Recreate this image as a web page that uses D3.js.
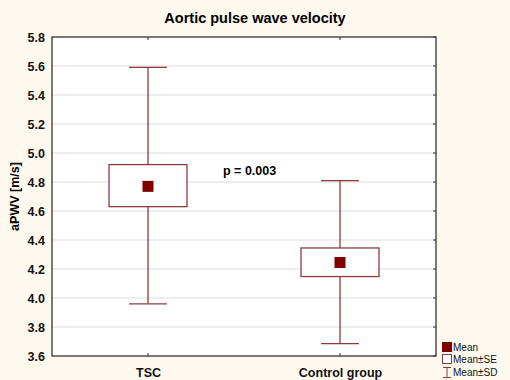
<!DOCTYPE html>
<html>
<head>
<meta charset="utf-8">
<script src="https://cdn.jsdelivr.net/npm/d3@7"></script>
<style>
  body { margin: 0; background: #fef9ee; }
  svg { display: block; font-family: Arial, "Liberation Sans", sans-serif; }
</style>
</head>
<body>
<div id="chart"></div>
<script>
const groups = ["TSC", "Control group"];
const means = [4.77, 4.245];
const seLow = [4.63, 4.148];
const seHigh = [4.92, 4.345];
const sdLow = [3.96, 3.686];
const sdHigh = [5.59, 4.81];
const yTicks = [3.6, 3.8, 4.0, 4.2, 4.4, 4.6, 4.8, 5.0, 5.2, 5.4, 5.6, 5.8];
const legendLabels = ["Mean", "Mean±SE", "Mean±SD"];

window.onload = function () {
    const width = 510, height = 380;
    const margin = { top: 37, right: 74, bottom: 24, left: 52 };
    const w = width - margin.left - margin.right;
    const h = height - margin.top - margin.bottom;
    const dark = "#800000", boxCol = "#8b3c3c";

    const svg = d3.select("#chart").append("svg")
        .attr("width", width).attr("height", height);

    svg.append("rect").attr("width", width).attr("height", height).attr("fill", "#fef9ee");

    svg.append("text")
        .attr("x", 255).attr("y", 23)
        .attr("text-anchor", "middle")
        .attr("font-size", 14.5).attr("font-weight", "bold")
        .text("Aortic pulse wave velocity");

    const g = svg.append("g").attr("transform", "translate(" + margin.left + "," + margin.top + ")");

    const x = d3.scalePoint().domain(groups).range([0, w]).padding(0.5);
    const y = d3.scaleLinear().domain([3.6, 5.8]).range([h, 0]);

    g.append("rect").attr("width", w).attr("height", h).attr("fill", "#fff");

    // grid
    g.selectAll(".grid").data(yTicks.slice(1, -1)).enter().append("line")
        .attr("x1", 0).attr("x2", w)
        .attr("y1", d => y(d)).attr("y2", d => y(d))
        .attr("stroke", "#dcdcdc").attr("stroke-width", 1.2);

    // y axis labels
    g.append("g")
        .call(d3.axisLeft(y).tickValues(yTicks).tickFormat(d3.format(".1f")).tickSize(0).tickPadding(7))
        .call(a => a.select(".domain").remove())
        .selectAll("text")
        .attr("font-size", 12.5).attr("font-weight", "bold").attr("fill", "#111")
        .attr("font-family", "Arial, 'Liberation Sans', sans-serif");

    // right inner ticks
    g.selectAll(".rt").data(yTicks).enter().append("line")
        .attr("x1", w - 3).attr("x2", w)
        .attr("y1", d => y(d)).attr("y2", d => y(d))
        .attr("stroke", "#333");

    // x axis labels
    g.append("g").attr("transform", "translate(0," + h + ")")
        .call(d3.axisBottom(x).tickSize(0).tickPadding(12))
        .call(a => a.select(".domain").remove())
        .selectAll("text")
        .attr("font-size", 12.5).attr("font-weight", "bold").attr("fill", "#111")
        .attr("font-family", "Arial, 'Liberation Sans', sans-serif");

    // top/bottom inner ticks
    groups.forEach(function (c) {
        g.append("line").attr("x1", x(c)).attr("x2", x(c)).attr("y1", 0).attr("y2", 3).attr("stroke", "#333");
        g.append("line").attr("x1", x(c)).attr("x2", x(c)).attr("y1", h - 3).attr("y2", h).attr("stroke", "#333");
    });

    svg.append("text")
        .attr("transform", "translate(19," + (margin.top + h / 2) + ") rotate(-90)")
        .attr("text-anchor", "middle")
        .attr("font-size", 12.5).attr("font-weight", "bold")
        .text("aPWV [m/s]");

    const boxW = 78, capW = 38, sq = 11;

    groups.forEach(function (c, i) {
        const cx = x(c);
        g.append("line").attr("x1", cx).attr("x2", cx)
            .attr("y1", y(sdHigh[i])).attr("y2", y(seHigh[i]))
            .attr("stroke", boxCol).attr("stroke-width", 1.3);
        g.append("line").attr("x1", cx).attr("x2", cx)
            .attr("y1", y(seLow[i])).attr("y2", y(sdLow[i]))
            .attr("stroke", boxCol).attr("stroke-width", 1.3);
        [sdHigh[i], sdLow[i]].forEach(function (v) {
            g.append("line").attr("x1", cx - capW / 2).attr("x2", cx + capW / 2)
                .attr("y1", y(v)).attr("y2", y(v))
                .attr("stroke", boxCol).attr("stroke-width", 1.3);
        });
        g.append("rect")
            .attr("x", cx - boxW / 2).attr("y", y(seHigh[i]))
            .attr("width", boxW).attr("height", y(seLow[i]) - y(seHigh[i]))
            .attr("fill", "#fff").attr("stroke", boxCol).attr("stroke-width", 1.3);
        g.append("rect")
            .attr("x", cx - sq / 2).attr("y", y(means[i]) - sq / 2)
            .attr("width", sq).attr("height", sq).attr("fill", dark);
    });

    // frame
    g.append("rect").attr("width", w).attr("height", h)
        .attr("fill", "none").attr("stroke", "#333").attr("stroke-width", 1.3);

    svg.append("text")
        .attr("x", 223).attr("y", 175)
        .attr("font-size", 12.5).attr("font-weight", "bold")
        .text("p = 0.003");

    // legend
    const lg = svg.append("g").attr("transform", "translate(442,342)");
    lg.append("rect").attr("x", 0).attr("y", 0).attr("width", 10).attr("height", 10).attr("fill", dark);
    lg.append("rect").attr("x", 0.5).attr("y", 12.5).attr("width", 9).attr("height", 9)
        .attr("fill", "#fff").attr("stroke", boxCol);
    lg.append("path").attr("d", "M1,25.5H9M5,25.5V35.5M1,35.5H9")
        .attr("fill", "none").attr("stroke", boxCol);
    lg.selectAll(".lt").data(legendLabels).enter().append("text")
        .attr("x", 11).attr("y", (d, i) => 8.5 + i * 12.5)
        .attr("font-size", 10).attr("fill", "#111")
        .text(d => d);
};
</script>
</body>
</html>
